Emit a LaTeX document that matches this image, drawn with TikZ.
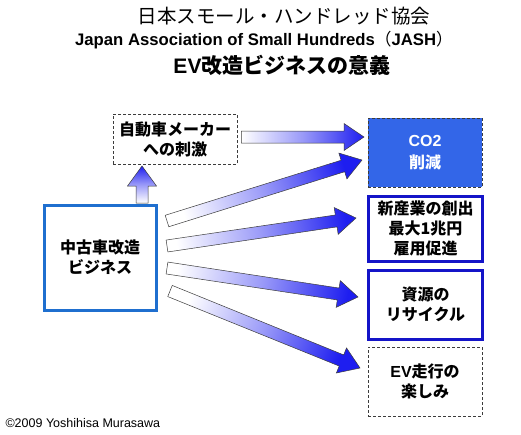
\documentclass[tikz,border=0pt]{standalone}
\usepackage{fontspec}
\setmainfont{Liberation Sans}
\newfontfamily\lat{Liberation Sans}
\newfontfamily\jp{Noto Sans CJK JP}
\usetikzlibrary{calc}

\definecolor{CoBlue}{HTML}{3366E8}
\definecolor{FrameBlue}{HTML}{1414C8}
\definecolor{UsedBlue}{HTML}{1F6FCF}
\definecolor{ArrowBlue}{HTML}{1E1EF0}
\definecolor{EdgeGray}{HTML}{3C3C3C}

% block arrow with a white-to-blue shading: [head half width]{tail}{tip}
\newcommand{\blockarrow}[3][13.5pt]{%
  \path let \p1=($(#3)-(#2)$) in \pgfextra{%
    \pgfmathsetmacro\arrlen{veclen(\x1,\y1)}%
    \pgfmathsetmacro\arrang{atan2(\y1,\x1)}%
    \xdef\arrlen{\arrlen}\xdef\arrang{\arrang}};
  \pgfmathsetmacro\arrshade{\arrang-90}%
  \begin{scope}[shift={(#2)}, rotate=\arrang]
    \shade[arr, shading angle=\arrshade]
      (0pt,-6pt) -- ({\arrlen pt-20pt},-6pt) -- ({\arrlen pt-20pt},-#1)
      -- (\arrlen pt,0pt) -- ({\arrlen pt-20pt},#1) -- ({\arrlen pt-20pt},6pt)
      -- (0pt,6pt) -- cycle;
  \end{scope}}

\begin{document}
\begin{tikzpicture}[
  x=1pt, y=-1pt,
  box/.style={draw=EdgeGray, densely dashed, line width=0.6pt,
              minimum width=114pt, minimum height=69pt, align=center,
              font=\jp\bfseries\fontsize{16}{20}\selectfont, inner sep=2pt},
  goal/.style={box, draw=FrameBlue, solid, line width=3pt},
  arr/.style={draw=EdgeGray, line width=0.5pt, bottom color=white,
              top color=ArrowBlue, middle color=ArrowBlue!45!white},
]
  \useasboundingbox[fill=white] (0,0) rectangle (521,434);

  % heading
  \node (title) at (284,16) {\jp\fontsize{19.5}{19.5}\selectfont 日本スモール・ハンドレッド協会};
  \node (sub)   at (264,40) {\bfseries\fontsize{16.7}{17}\selectfont Japan Association of Small Hundreds{\jp\mdseries （}JASH{\jp\mdseries ）}};
  \node (theme) at (282,65) {\bfseries\fontsize{21}{21}\selectfont EV{\jp 改造ビジネスの意義}};

  % boxes
  \node[box, minimum width=124pt, minimum height=50pt] (maker) at (175,139) {自動車メーカー\\への刺激};
  \node[box, draw=UsedBlue, solid, line width=3pt, minimum width=112pt,
        minimum height=105pt] (used) at (100,257.5) {中古車改造\\ビジネス};
  \node[box, fill=CoBlue, text=white, font=\jp\bfseries\fontsize{16}{22}\selectfont] (co2) at (425,152.5) {{\lat CO2}\\削減};
  \node[goal, minimum height=65pt] (industry) at (425.5,228.5) {新産業の創出\\最大1兆円\\雇用促進};
  \node[goal] (recycle) at (425.5,304.5) {資源の\\リサイクル};
  \node[box] (fun) at (425,381.5) {{\lat EV}走行の\\楽しみ};

  % arrow ends
  \coordinate (t0) at ([xshift=4pt,yshift=2pt]maker.east);
  \coordinate (h0) at (t0 -| 364,0);
  \coordinate (tu) at (142,203);
  \coordinate (hu) at (142,166);
  \coordinate (t1) at (167,221);
  \coordinate (h1) at (362,160);
  \coordinate (t2) at (167,246);
  \coordinate (h2) at (356,218);
  \coordinate (t3) at (167,268);
  \coordinate (h3) at (358,297);
  \coordinate (t4) at (170,291);
  \coordinate (h4) at (360,368);

  \blockarrow{t0}{h0}
  \blockarrow[14.5pt]{tu}{hu}
  \blockarrow{t1}{h1}
  \blockarrow{t2}{h2}
  \blockarrow{t3}{h3}
  \blockarrow{t4}{h4}

  \node[anchor=west] (copy) at (2,423) {\fontsize{12.5}{13}\selectfont ©2009 Yoshihisa Murasawa};
\end{tikzpicture}
\end{document}
